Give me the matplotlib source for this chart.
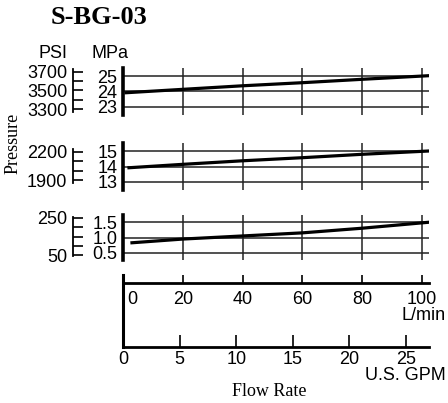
"""
S-BG-03 pressure vs flow rate chart
"""
import matplotlib
matplotlib.use("Agg")
import matplotlib.pyplot as plt
from matplotlib.transforms import ScaledTranslation

# data
flow_lpm = [1, 20, 40, 60, 80, 102]
p1_mpa = [23.92, 24.14, 24.37, 24.57, 24.79, 25.02]
flow_lpm2 = [2, 20, 40, 60, 80, 102]
p2_mpa = [13.92, 14.14, 14.37, 14.57, 14.79, 15.0]
flow_lpm3 = [3, 20, 40, 60, 80, 102]
p3_mpa = [0.83, 0.95, 1.05, 1.15, 1.30, 1.49]

mpa_ticks = [[23, 24, 25], [13, 14, 15], [0.5, 1.0, 1.5]]
mpa_labels = [["23", "24", "25"], ["13", "14", "15"], ["0.5", "1.0", "1.5"]]
psi_ticks = [[3300, 3400, 3500, 3600, 3700], [1900, 2000, 2100, 2200], [50, 100, 150, 200, 250]]
psi_labels = [["3300", "", "3500", "", "3700"], ["1900", "", "", "2200"], ["50", "", "", "", "250"]]
lpm_ticks = [0, 20, 40, 60, 80, 100]
gpm_ticks = [0, 5, 10, 15, 20, 25]

W, H = 448, 403
LPM_MAX = 102.3

plt.rcParams['font.family'] = ['Liberation Sans', 'DejaVu Sans']
plt.rcParams['font.size'] = 13

fig = plt.figure(figsize=(W / 100, H / 100), dpi=100)


def box(x0, y0, x1, y1):
    # pixel box (top-left origin) -> figure fraction rect
    return [x0 / W, 1 - y1 / H, (x1 - x0) / W, (y1 - y0) / H]


def clean(ax):
    for s in ax.spines.values():
        s.set_visible(False)
    ax.patch.set_alpha(0)


# pressure panels: (pixel y top, y bottom, ylim), psi spine (y top, y bottom, ylim)
panels = [
    ((68, 115), (22.48, 25.52), (69, 112), (3268, 3729)),
    ((143, 190), (12.48, 15.52), (149, 183), (1868, 2232)),
    ((215, 260), (0.274, 1.726), (217, 256), (45, 255)),
]
curves = [(flow_lpm, p1_mpa), (flow_lpm2, p2_mpa), (flow_lpm3, p3_mpa)]

for i, ((yt, yb), ylim, (pt, pb), plim) in enumerate(panels):
    ax = fig.add_axes(box(123, yt, 429, yb))
    clean(ax)
    ax.set_xlim(0, LPM_MAX)
    ax.set_ylim(*ylim)
    ax.spines['left'].set_visible(True)
    ax.spines['left'].set_linewidth(2.6)
    ax.set_xticks([])
    ax.set_yticks(mpa_ticks[i])
    ax.set_yticklabels(mpa_labels[i])
    ax.tick_params(axis='y', length=0, pad=4)
    for v in mpa_ticks[i]:
        ax.axhline(v, color='#222222', lw=1.1, zorder=1)
    for v in lpm_ticks[1:]:
        ax.axvline(v, color='#222222', lw=1.1, zorder=1)
    ax.plot(curves[i][0], curves[i][1], color='black', lw=2.3, zorder=3)

    # psi scale bracket
    axp = fig.add_axes(box(73, pt, 83, pb))
    clean(axp)
    axp.set_ylim(*plim)
    axp.set_xticks([])
    axp.spines['left'].set_visible(True)
    axp.spines['left'].set_linewidth(1.3)
    axp.set_yticks(psi_ticks[i])
    axp.set_yticklabels(psi_labels[i])
    axp.tick_params(axis='y', direction='in', length=7, width=1.2, pad=4)

# flow rate axes: L/min
axl = fig.add_axes(box(123, 275, 429, 283))
clean(axl)
axl.set_xlim(0, LPM_MAX)
axl.set_yticks([])
axl.spines['bottom'].set_visible(True)
axl.spines['bottom'].set_linewidth(2)
axl.set_xticks(lpm_ticks)
axl.set_xticklabels([str(v) for v in lpm_ticks])
axl.tick_params(axis='x', direction='in', length=5.8, width=1.2, pad=6)
lab0 = axl.get_xticklabels()[0]
lab0.set_ha('left')
lab0.set_transform(lab0.get_transform() + ScaledTranslation(3 / 72, 0, fig.dpi_scale_trans))

# flow rate axes: U.S. GPM
axg = fig.add_axes(box(123, 275, 429, 347))
clean(axg)
axg.set_xlim(0, LPM_MAX / 3.785)
axg.set_yticks([])
axg.spines['bottom'].set_visible(True)
axg.spines['bottom'].set_linewidth(2)
axg.spines['left'].set_visible(True)
axg.spines['left'].set_linewidth(2.2)
axg.set_xticks(gpm_ticks)
axg.set_xticklabels([str(v) for v in gpm_ticks])
axg.tick_params(axis='x', direction='in', length=8.6, width=1.2, pad=3)


def txt(x, y, s, **kw):
    fig.text(x / W, 1 - y / H, s, **kw)


txt(99, 17, "S-BG-03", family='Liberation Serif', weight='bold', size=19, ha='center', va='center')
txt(53, 53, "PSI", ha='center', va='center')
txt(110, 53, "MPa", ha='center', va='center')
txt(13, 143, "Pressure", family='Liberation Serif', size=13, rotation=90, ha='center', va='center')
txt(446, 316, "L/min", ha='right', va='center')
txt(446, 376, "U.S. GPM", ha='right', va='center')
txt(269, 391, "Flow Rate", family='Liberation Serif', size=13, ha='center', va='center')

fig.savefig("out.png", dpi=100)
